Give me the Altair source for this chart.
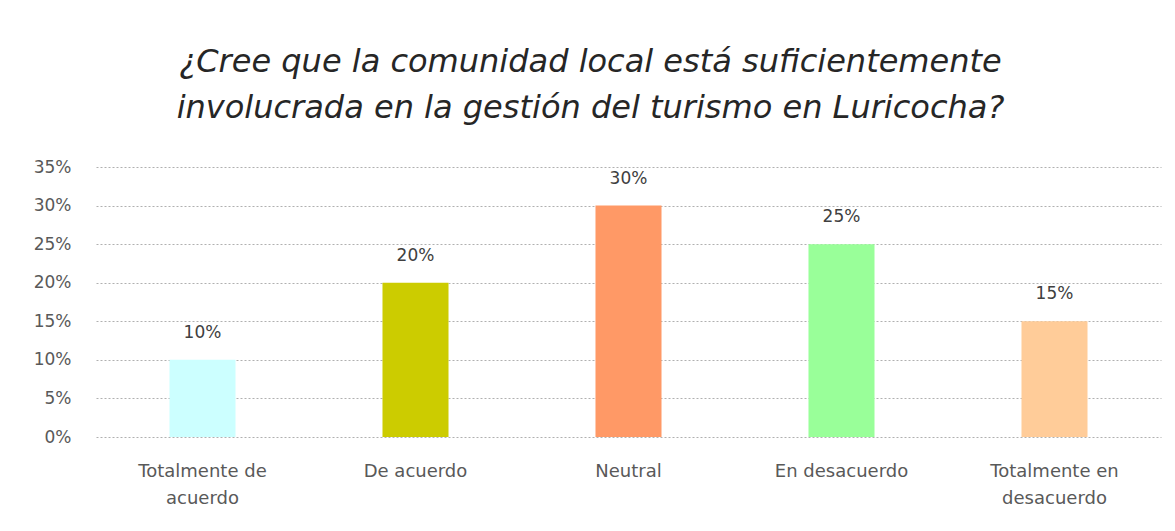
import altair as alt
import pandas as pd

categories = ["Totalmente de\nacuerdo", "De acuerdo", "Neutral", "En desacuerdo", "Totalmente en\ndesacuerdo"]
values = [0.10, 0.20, 0.30, 0.25, 0.15]
colors = ["#CCFFFF", "#CCCC00", "#FF9966", "#99FF99", "#FFCC99"]
y_ticks = [0, 0.05, 0.10, 0.15, 0.20, 0.25, 0.30, 0.35]
title_lines = ["¿Cree que la comunidad local está suficientemente",
               "involucrada en la gestión del turismo en Luricocha?"]

df = pd.DataFrame({"cat": categories, "val": values})
FONT = "DejaVu Sans"

x = alt.X("cat:N", sort=categories, title=None,
          scale=alt.Scale(paddingInner=0.69, paddingOuter=0.345),
          axis=alt.Axis(labelAngle=0, labelExpr="split(datum.label, '\\n')",
                        labelFontSize=18, labelColor="#595959", labelFont=FONT,
                        labelPadding=25, labelLineHeight=27, ticks=False, domain=False,
                        labelOverlap=False))
y = alt.Y("val:Q", title=None,
          scale=alt.Scale(domain=[0, 0.35], nice=False, zero=True),
          axis=alt.Axis(format=".0%", values=y_ticks,
                        labelFontSize=17, labelColor="#595959", labelFont=FONT,
                        labelPadding=25, ticks=False, domain=False, labelOverlap=False,
                        grid=True, gridColor="#b0b0b0", gridDash=[2, 2], gridWidth=1))

bars = alt.Chart(df).mark_bar().encode(
    x=x, y=y,
    color=alt.Color("cat:N", sort=categories, scale=alt.Scale(domain=categories, range=colors), legend=None),
)
labels = alt.Chart(df).mark_text(dy=-27, fontSize=17, color="#404040", font=FONT).encode(
    x=x, y=y, text=alt.Text("val:Q", format=".0%"))

chart = alt.layer(bars, labels).properties(
    width=1065, height=270,
    title=alt.TitleParams(title_lines, fontSize=32, font=FONT, fontStyle="italic",
                          fontWeight="normal", color="#262626", anchor="middle", dx=-38,
                          offset=33, lineHeight=46),
    padding={"left": 88, "top": 159, "right": 6, "bottom": 80},
    autosize=alt.AutoSizeParams(type="none"),
).configure(background="white").configure_view(stroke=None)

chart.save("out.html", embed_options={"renderer": "svg", "actions": False})
